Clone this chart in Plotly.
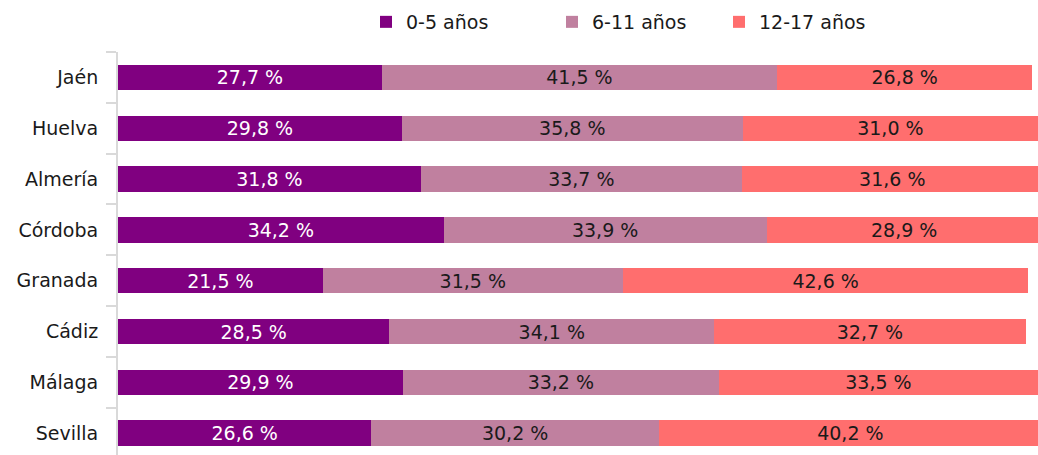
import plotly.graph_objects as go

provincias = ["Jaén", "Huelva", "Almería", "Córdoba", "Granada", "Cádiz", "Málaga", "Sevilla"]
series_names = ["0-5 años", "6-11 años", "12-17 años"]
v_0_5 = [27.7, 29.8, 31.8, 34.2, 21.5, 28.5, 29.9, 26.6]
v_6_11 = [41.5, 35.8, 33.7, 33.9, 31.5, 34.1, 33.2, 30.2]
v_12_17 = [26.8, 31.0, 31.6, 28.9, 42.6, 32.7, 33.5, 40.2]

colors = ["#800080", "#C0809F", "#FF6E6E"]
text_colors = ["#FFFFFF", "#1a1a1a", "#1a1a1a"]
legend_ids = ["legend", "legend2", "legend3"]
legend_x = [366, 552, 719]

FONT = "DejaVu Sans"
W, H = 1038, 455

fig = go.Figure()
for name, vals, col, tcol, lg in zip(series_names, [v_0_5, v_6_11, v_12_17], colors, text_colors, legend_ids):
    fig.add_trace(go.Bar(
        y=provincias, x=vals, name=name, orientation="h",
        marker=dict(color=col, line=dict(width=0)),
        text=[f"{v:.1f} %".replace(".", ",") for v in vals],
        textposition="inside", insidetextanchor="middle",
        textangle=0, constraintext="none",
        textfont=dict(family=FONT, size=19, color=tcol),
        legend=lg, hoverinfo="skip",
    ))

layout_legends = {}
for lg, lx in zip(legend_ids, legend_x):
    layout_legends[lg] = dict(
        x=lx / W, y=1 - 22 / H, xref="container", yref="container",
        xanchor="left", yanchor="middle", orientation="h",
        font=dict(family=FONT, size=19, color="#1a1a1a"),
        bgcolor="rgba(0,0,0,0)", borderwidth=0,
    )

fig.update_layout(
    width=W, height=H,
    barmode="stack", bargap=0.5,
    plot_bgcolor="white", paper_bgcolor="white",
    margin=dict(l=118, r=0, t=51.5, b=0, autoexpand=False),
    font=dict(family=FONT, size=19, color="#1a1a1a"),
    showlegend=True,
    **layout_legends,
)
fig.update_xaxes(range=[0, 96.6], visible=False, fixedrange=True)
fig.update_yaxes(
    categoryorder="array", categoryarray=provincias,
    range=[7.43, -0.5], automargin=False, fixedrange=True,
    showline=True, linecolor="#D9D9D9", linewidth=2,
    ticks="outside", tickson="boundaries", ticklen=10, tickcolor="#D9D9D9", tickwidth=2,
    showgrid=False, zeroline=False,
    tickfont=dict(family=FONT, size=19, color="#1a1a1a"),
    ticklabelstandoff=14,
)

fig.write_html(
    "out.html",
    config={"displayModeBar": False, "staticPlot": True},
    post_script="document.body.style.margin='0';document.body.style.overflow='hidden';",
)
